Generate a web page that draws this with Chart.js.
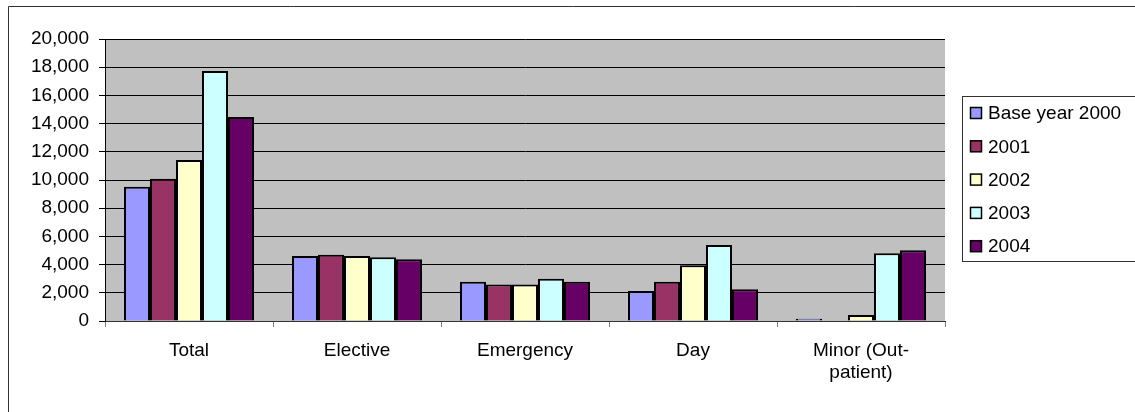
<!DOCTYPE html>
<html>
<head>
<meta charset="utf-8">
<script src="https://cdn.jsdelivr.net/npm/chart.js@4/dist/chart.umd.min.js"></script>
<style>
  body { margin: 0; background: #fff; }
  #wrap { width: 1135px; height: 412px; }
</style>
</head>
<body>
<div id="wrap"><canvas id="chart" width="1135" height="412"></canvas></div>
<script>
// categories and series
const categories = ['Total', 'Elective', 'Emergency', 'Day', ['Minor (Out-', 'patient)']];
const seriesNames = ['Base year 2000', '2001', '2002', '2003', '2004'];
const base2000 = [9520, 4610, 2790, 2130, 160];
const y2001 = [10090, 4700, 2580, 2790, 0];
const y2002 = [11420, 4610, 2580, 3950, 430];
const y2003 = [17730, 4520, 3000, 5390, 4800];
const y2004 = [14470, 4380, 2790, 2250, 5010];
const yTicks = [0, 2000, 4000, 6000, 8000, 10000, 12000, 14000, 16000, 18000, 20000];

const colors = ['#9999FF', '#993366', '#FFFFCC', '#CCFFFF', '#660066'];
const FONT = '"Liberation Sans", Arial, sans-serif';

// grey plot area, outer frame and boxed legend
const frame = {
    id: 'frame',
    beforeDraw(chart) {
        const { ctx, chartArea: a } = chart;
        ctx.save();
        ctx.fillStyle = '#C0C0C0';
        ctx.fillRect(a.left, a.top, a.right - a.left, a.bottom - a.top);
        ctx.restore();
    },
    afterDraw(chart) {
        const ctx = chart.ctx;
        ctx.save();
        ctx.strokeStyle = '#333';
        ctx.lineWidth = 1;
        ctx.beginPath();
        ctx.moveTo(8.5, 420);
        ctx.lineTo(8.5, 6.5);
        ctx.lineTo(1140, 6.5);
        ctx.stroke();

        // legend box
        ctx.strokeRect(962.5, 96.5, 190, 165);
        ctx.font = '19px ' + FONT;
        ctx.textBaseline = 'middle';
        chart.data.datasets.forEach((ds, i) => {
            const cy = 113 + i * 33.3;
            ctx.fillStyle = ds.backgroundColor;
            ctx.fillRect(970.5, cy - 5.5, 11, 11);
            ctx.strokeStyle = '#000';
            ctx.lineWidth = 1.5;
            ctx.strokeRect(970.5, cy - 5.5, 11, 11);
            ctx.fillStyle = '#000';
            ctx.fillText(ds.label, 988, cy + 1);
        });
        ctx.restore();
    }
};

const seriesData = [base2000, y2001, y2002, y2003, y2004];

new Chart(document.getElementById('chart'), {
    type: 'bar',
    data: {
        labels: categories,
        datasets: seriesNames.map((name, i) => ({
            label: name,
            data: seriesData[i],
            backgroundColor: colors[i],
            borderColor: '#000',
            borderWidth: 2,
            barPercentage: 1.0,
            categoryPercentage: 0.774
        }))
    },
    options: {
        responsive: false,
        animation: false,
        layout: { padding: { left: 0, right: 190, top: 39, bottom: 0 } },
        plugins: {
            legend: { display: false },
            tooltip: { enabled: false }
        },
        scales: {
            x: {
                afterFit: s => { s.height = 91; },
                grid: {
                    offset: true,
                    drawOnChartArea: false,
                    drawTicks: true,
                    tickLength: 6,
                    tickColor: '#808080'
                },
                border: { color: '#333', width: 1 },
                ticks: {
                    color: '#000',
                    font: { family: FONT, size: 19, lineHeight: 1.15 },
                    padding: 13,
                    maxRotation: 0,
                    autoSkip: false
                }
            },
            y: {
                min: 0,
                max: 20000,
                afterFit: s => { s.width = 105; },
                afterBuildTicks: s => { s.ticks = yTicks.map(v => ({ value: v })); },
                grid: {
                    color: '#000',
                    lineWidth: 1,
                    tickLength: 6,
                    tickColor: '#000'
                },
                border: { color: '#000', width: 1 },
                ticks: {
                    color: '#000',
                    font: { family: FONT, size: 19 },
                    padding: 10,
                    callback: v => v.toLocaleString('en-US')
                }
            }
        }
    },
    plugins: [frame]
});
</script>
</body>
</html>
